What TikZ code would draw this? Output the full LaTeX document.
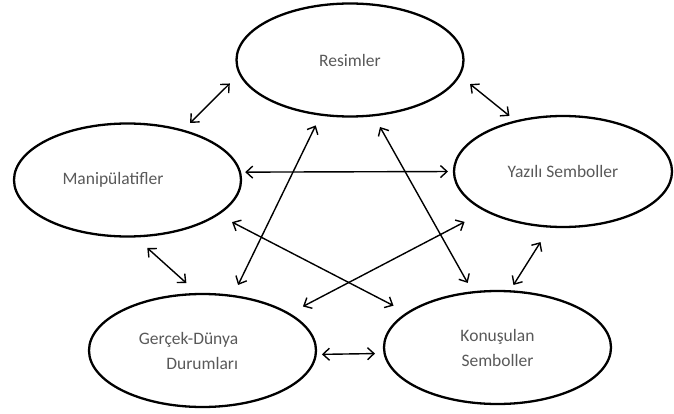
\documentclass[tikz,border=0pt]{standalone}
\usepackage{fontspec}
\setmainfont{Carlito}
\usetikzlibrary{shapes.geometric,arrows.meta}
\begin{document}
\begin{tikzpicture}[
x=1pt, y=-1pt,
tag/.style={text=black!65, font=\fontsize{17.5}{25}\selectfont, align=center},
concept/.style={ellipse, draw=black, line width=2.3pt, outer sep=0pt, inner sep=0pt, minimum width=227pt, minimum height=113pt, tag},
link/.style={{Straight Barb[length=6.5pt,width=12pt]}-{Straight Barb[length=6.5pt,width=12pt]}, line width=1.4pt},
]
\useasboundingbox (0,0) rectangle (674,414);
\node[concept] (resimler) at (350,60) {Resimler};
\node[concept, label={[name=manitext, tag, xshift=-14.5pt]center:Manipülatifler}] (mani) at (127.5,180) {};
\node[concept, minimum width=218pt, minimum height=111pt] (yazili) at (563,171.5) {Yazılı Semboller};
\node[concept, label={[name=gercektext, tag, align=right, xshift=-14pt]center:Gerçek-Dünya\\Durumları}] (gercek) at (202.5,350.5) {};
\node[concept] (konusulan) at (497.5,347.5) {Konuşulan\\Semboller};
% neighbours round the ring
\draw[link, shorten <=10.8pt, shorten >=14.1pt] (mani.42) -- (resimler.187.4);
\draw[link, shorten <=13.9pt, shorten >=8.7pt] (resimler.352.1) -- (yazili.133.4);
\draw[link, shorten <=18.3pt, shorten >=7.5pt] (yazili.257.7) -- (konusulan.78.5);
\draw[link, shorten <=6.2pt, shorten >=9.6pt] (gercek.358.5) -- (konusulan.183);
\draw[link, shorten <=17.3pt, shorten >=16.4pt] (mani.277.8) -- (gercek.94);
% across the middle
\draw[link, shorten <=5.3pt, shorten >=6pt] (mani.4.3) -- (yazili.180);
\draw[link, shorten <=16.5pt, shorten >=15.9pt] (mani.339.6) -- (konusulan.159.4);
\draw[link, shorten <=24.1pt, shorten >=15.9pt] (yazili.207.3) -- (gercek.23.5);
\draw[link, shorten <=12pt, shorten >=12.3pt] (resimler.242.3) -- (gercek.61.1);
\draw[link, shorten <=13.4pt, shorten >=10.8pt] (resimler.293) -- (konusulan.114.6);
\end{tikzpicture}
\end{document}
